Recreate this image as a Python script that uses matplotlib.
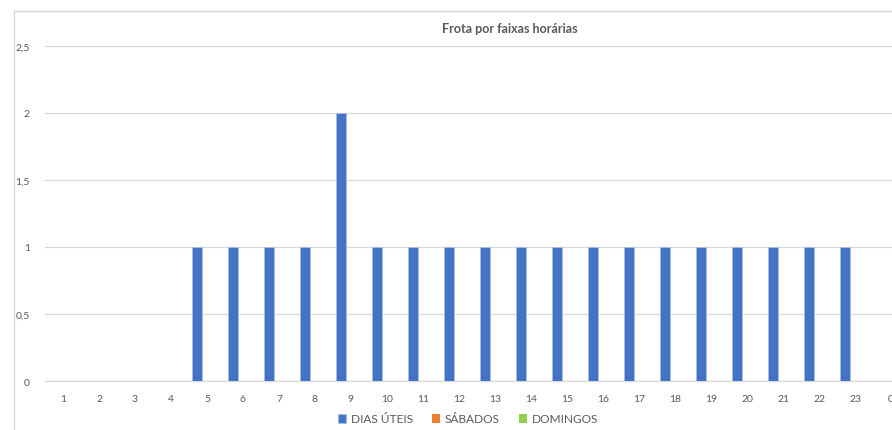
import numpy as np
import matplotlib
matplotlib.use("Agg")
import matplotlib.pyplot as plt
from matplotlib.lines import Line2D

plt.rcParams['font.family'] = ['Lato', 'DejaVu Sans']

# faixas horárias e frota em cada uma
horas = ['1', '2', '3', '4', '5', '6', '7', '8', '9', '10', '11', '12',
         '13', '14', '15', '16', '17', '18', '19', '20', '21', '22', '23', '0']
dias_uteis = [0, 0, 0, 0, 1, 1, 1, 1, 2, 1, 1, 1,
              1, 1, 1, 1, 1, 1, 1, 1, 1, 1, 1, 0]
sabados = [0] * 24
domingos = [0] * 24
y_ticks = [0, 0.5, 1, 1.5, 2, 2.5]
y_labels = ['0', '0,5', '1', '1,5', '2', '2,5']

W, H = 892, 431
fig = plt.figure(figsize=(W / 100, H / 100), dpi=100)
ax = fig.add_axes([45 / W, 1 - 382 / H, (909 - 45) / W, (382 - 47) / H])

x = np.arange(len(horas))
w = 0.28
cinza = '#d9d9d9'
ax.bar(x - w, dias_uteis, w, color='#4472c4', edgecolor='#a8bfe6', linewidth=0.6,
       label='DIAS ÚTEIS', zorder=3)
ax.bar(x, sabados, w, color='#ed7d31', label='SÁBADOS', zorder=3)
ax.bar(x + w, domingos, w, color='#92d050', label='DOMINGOS', zorder=3)

ax.set_xlim(-0.5, len(horas) - 0.5)
ax.set_ylim(0, 2.5)
ax.set_yticks(y_ticks)
ax.set_yticklabels(y_labels)
ax.set_xticks(x)
ax.set_xticklabels(horas)
ax.grid(axis='y', color=cinza, linewidth=0.9, zorder=0)
for s in ['top', 'right', 'left']:
    ax.spines[s].set_visible(False)
ax.spines['bottom'].set_color(cinza)
ax.spines['bottom'].set_linewidth(0.9)
ax.tick_params(axis='both', length=0, labelsize=7.5, labelcolor='#595959')
ax.tick_params(axis='y', pad=11)
ax.tick_params(axis='x', pad=9)

fig.text(510 / W, 1 - 29 / H, 'Frota por faixas horárias', ha='center', va='center',
         fontsize=9, fontweight='bold', color='#595959')

fig.legend(loc='center', bbox_to_anchor=(468 / W, 1 - 420 / H), ncol=3, frameon=False,
           fontsize=8.6, labelcolor='#595959', handlelength=0.7, handleheight=0.7,
           handletextpad=0.4, columnspacing=1.6)

# moldura da área do gráfico
fig.add_artist(Line2D([14 / W, 1], [1 - 12 / H] * 2, color=cinza, linewidth=1,
                      transform=fig.transFigure))
fig.add_artist(Line2D([14 / W] * 2, [0, 1 - 12 / H], color=cinza, linewidth=1,
                      transform=fig.transFigure))

fig.savefig('out.png', dpi=100)
